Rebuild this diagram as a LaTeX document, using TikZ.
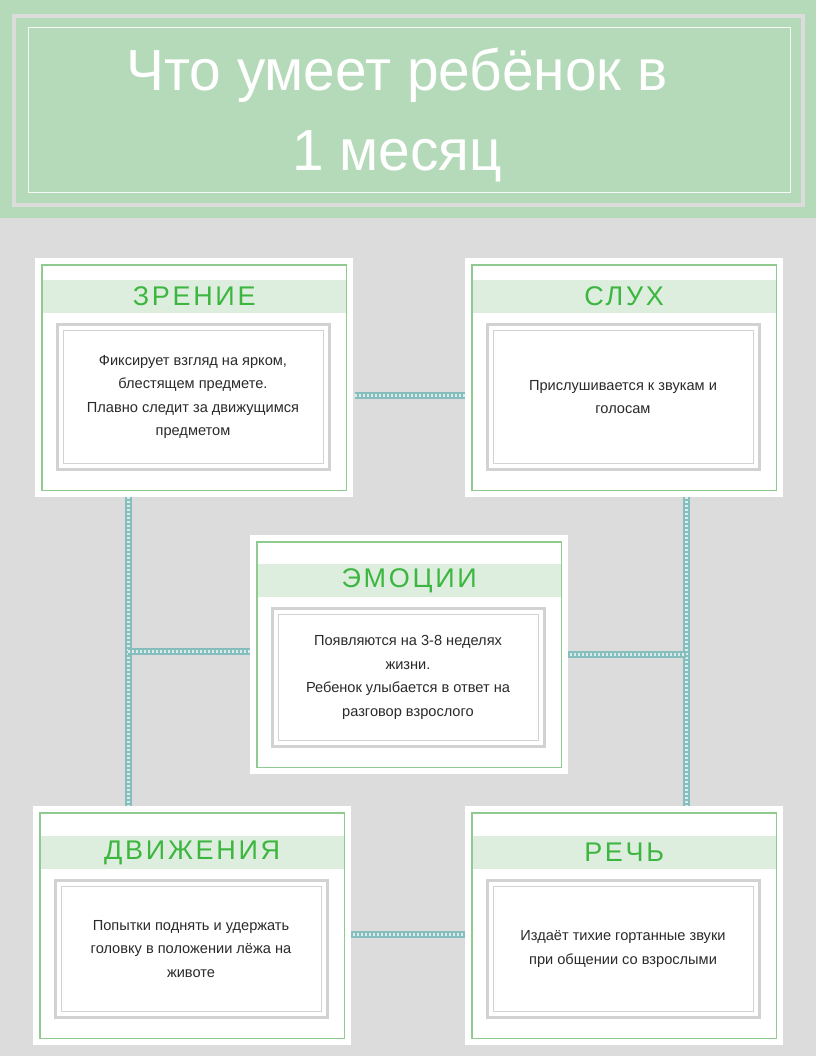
\documentclass[tikz,border=0pt]{standalone}
\usepackage{fontspec}
\setmainfont{Liberation Sans}
\newfontfamily\hdfont[LetterSpace=10]{Liberation Sans}
\usetikzlibrary{calc}
\definecolor{bg}{HTML}{DCDCDC}
\definecolor{hgreen}{HTML}{B5DAB9}
\definecolor{gline}{HTML}{8FCB8F}
\definecolor{band}{HTML}{DDEEDF}
\definecolor{tgreen}{HTML}{3DB640}
\definecolor{gray1}{HTML}{D2D2D2}
\definecolor{teal}{HTML}{86BDBD}
\definecolor{txt}{HTML}{2A2A2A}
\tikzset{
  link/.style={line width=7pt,teal},
  linkdots/.style={line width=3pt,white,dash pattern=on 1.5pt off 2.5pt,opacity=0.7},
  body/.style={align=center,text=txt,font=\fontsize{14.6}{23.5}\selectfont},
}
\newcommand\mycard[6]{%
  \node[fill=white,minimum width=318pt,minimum height=239pt,inner sep=0,anchor=north west] (#1) at (#2,#3) {};
  \draw[gline,line width=1.5pt] ($(#1.north west)+(7,7)$) rectangle ($(#1.south east)+(-7,-7)$);
  \fill[band] ($(#1.north west)+(7.8,22+#6)$) rectangle ($(#1.north east)+(-7.8,55+#6)$);
  \node[font=\fontsize{27}{30}\selectfont\hdfont,text=tgreen] (#1t) at ($(#1.north)+(0,38.5+#6)$) {#4};
  \draw[gray1,line width=3pt] ($(#1.north west)+(22,66+#6)$) rectangle ($(#1.south east)+(-24,-28)$);
  \draw[gray1,line width=0.8pt] ($(#1.north west)+(28,72+#6)$) rectangle ($(#1.south east)+(-30,-34)$);
  \node[body] (#1b) at ($(#1.north west)+(158,139+#6/2)$) {#5};
}
\begin{document}
\begin{tikzpicture}[x=1pt,y=-1pt]
\fill[bg] (0,0) rectangle (816,1056);
\useasboundingbox (0,0) rectangle (816,1056);
\fill[hgreen] (0,0) rectangle (816,218);
\draw[bg,line width=4pt] (14,16) rectangle (803,205);
\draw[white!85!hgreen,line width=0.8pt] (28,27) rectangle (790,192);
\node[text=white,font=\fontsize{58}{80}\selectfont,align=center,xscale=0.98] (title) at (397,115) {Что умеет ребёнок в\\1 месяц};
% links
\draw[link] (355,395) -- (465,395);
\draw[linkdots] (355,395) -- (465,395);
\coordinate (lj) at (128,651);
\coordinate (rj) at (686,654);
\draw[link] (128,497) -- (128,806);
\draw[linkdots] (128,497) -- (128,806);
\draw[link] (686,497) -- (686,806);
\draw[linkdots] (686,497) -- (686,806);
\draw[link] (lj) -- (250,651);
\draw[linkdots] (lj) -- (250,651);
\draw[link] (566,654) -- (rj);
\draw[linkdots] (566,654) -- (rj);
\draw[link] (349,934) -- (465,934);
\draw[linkdots] (349,934) -- (465,934);
\mycard{zr}{35}{258}{ЗРЕНИЕ}{Фиксирует взгляд на ярком,\\блестящем предмете.\\Плавно следит за движущимся\\предметом}{0}
\mycard{sl}{465}{258}{СЛУХ}{Прислушивается к звукам и\\голосам}{0}
\mycard{em}{250}{535}{ЭМОЦИИ}{Появляются на 3-8 неделях\\жизни.\\Ребенок улыбается в ответ на\\разговор взрослого}{7}
\mycard{dv}{33}{806}{ДВИЖЕНИЯ}{Попытки поднять и удержать\\головку в положении лёжа на\\животе}{8}
\mycard{re}{465}{806}{РЕЧЬ}{Издаёт тихие гортанные звуки\\при общении со взрослыми}{8}
\end{tikzpicture}
\end{document}
